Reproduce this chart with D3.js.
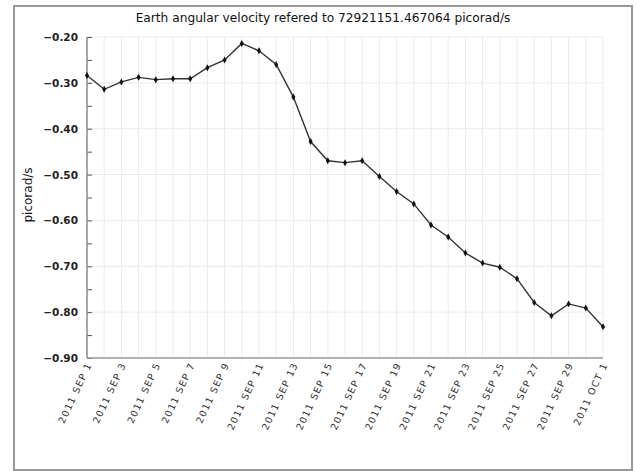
<!DOCTYPE html>
<html><head><meta charset="utf-8">
<script src="https://cdn.jsdelivr.net/npm/d3@7"></script>
<style>body{margin:0;background:#fff}svg{display:block}</style>
</head><body>
<script>
const titleText = "Earth angular velocity refered to 72921151.467064 picorad/s";
const yLabel = "picorad/s";
const dates = d3.range(0, 31).map(i => new Date(2011, 8, 1 + i));
const values = [-0.284,-0.314,-0.298,-0.288,-0.293,-0.291,-0.291,-0.267,-0.250,-0.214,
  -0.230,-0.260,-0.331,-0.428,-0.470,-0.474,-0.470,-0.504,-0.537,-0.564,
  -0.610,-0.636,-0.671,-0.693,-0.702,-0.727,-0.779,-0.808,-0.782,-0.791,-0.832];
const yTicks = [-0.20,-0.30,-0.40,-0.50,-0.60,-0.70,-0.80,-0.90];
const months = ["JAN","FEB","MAR","APR","MAY","JUN","JUL","AUG","SEP","OCT","NOV","DEC"];

const W = 636, H = 471;
const svg = d3.select("body").append("svg").attr("width", W).attr("height", H);
const L = 87, R = 603, T = 37, B = 358;

svg.append("rect").attr("x", 14).attr("y", 6).attr("width", 618).attr("height", 464)
  .attr("fill", "#fff").attr("stroke", "#999").attr("stroke-width", 2);

const x = d3.scaleTime().domain([dates[0], dates[30]]).range([L, R]);
const y = d3.scaleLinear().domain([-0.90, -0.20]).range([B, T]);

// grid
const g = svg.append("g");
g.selectAll(".vg").data(dates.slice(1)).join("line")
  .attr("x1", d => x(d)).attr("x2", d => x(d)).attr("y1", T).attr("y2", B)
  .attr("stroke", "#ebebeb").attr("stroke-width", 1);
g.selectAll(".hg").data(yTicks.slice(0, -1)).join("line")
  .attr("x1", L).attr("x2", R).attr("y1", d => y(d)).attr("y2", d => y(d))
  .attr("stroke", "#ebebeb").attr("stroke-width", 1);

// y axis with inward ticks
const yAxis = d3.axisRight(y).tickValues(d3.range(-0.90, -0.199, 0.05)).tickSize(5).tickFormat("");
svg.append("g").attr("transform", `translate(${L},0)`).call(yAxis)
  .call(s => s.select(".domain").remove())
  .call(s => s.selectAll("line").attr("stroke", "#555"));
svg.append("line").attr("x1", L).attr("x2", L).attr("y1", T).attr("y2", B)
  .attr("stroke", "#888").attr("stroke-width", 1.5);
svg.selectAll(".yl").data(yTicks).join("text")
  .attr("x", L - 9).attr("y", d => y(d) + 4).attr("text-anchor", "end")
  .attr("font-family", "DejaVu Sans").attr("font-size", 10.5).attr("fill", "#222")
  .attr("font-weight", 600)
  .text(d => d3.format(".2f")(d));

// x axis
svg.append("line").attr("x1", L).attr("x2", R).attr("y1", B).attr("y2", B)
  .attr("stroke", "#999").attr("stroke-width", 1.5);
const xLab = dates.filter((d, i) => i % 2 === 0);
svg.selectAll(".xl").data(xLab).join("text")
  .attr("transform", d => `translate(${x(d) + 2},${B + 5}) rotate(-65)`)
  .attr("text-anchor", "end").attr("dy", "0.35em")
  .attr("font-family", "DejaVu Sans").attr("font-size", 9.5).attr("fill", "#333")
  .attr("letter-spacing", 1.2)
  .text(d => `${d.getFullYear()} ${months[d.getMonth()]} ${d.getDate()}`);

// line
const line = d3.line().x((d, i) => x(dates[i])).y(d => y(d));
svg.append("path").datum(values).attr("d", line).attr("fill", "none")
  .attr("stroke", "#333").attr("stroke-width", 1.4);
svg.selectAll(".pt").data(values).join("path")
  .attr("transform", (d, i) => `translate(${x(dates[i])},${y(d)})`)
  .attr("d", d3.symbol(d3.symbolDiamond, 14)).attr("fill", "#111");

// title
svg.append("text").attr("x", 323).attr("y", 22).attr("text-anchor", "middle")
  .attr("font-family", "DejaVu Sans").attr("font-size", 12.2).attr("fill", "#111")
  .text(titleText);
svg.append("text").attr("transform", `translate(32,195) rotate(-90)`)
  .attr("text-anchor", "middle").attr("font-family", "DejaVu Sans").attr("font-size", 12)
  .attr("fill", "#111").text(yLabel);
</script>
</body></html>
